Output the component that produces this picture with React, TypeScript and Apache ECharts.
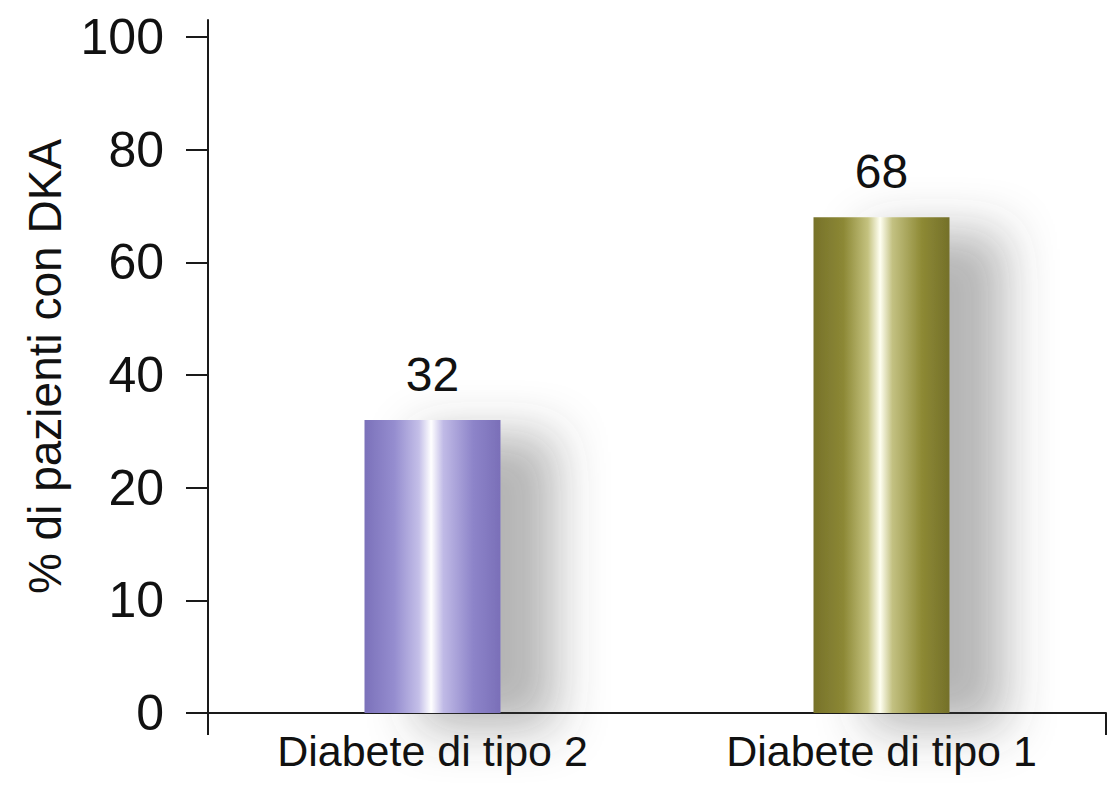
import React, { useEffect, useRef } from "react";
import * as echarts from "echarts";

const categories = ["Diabete di tipo 2", "Diabete di tipo 1"];
const values = [32, 68];
const yTickLabels = [0, 10, 20, 40, 60, 80, 100];
const yAxisName = "% di pazienti con DKA";

// map a value onto the (non-uniform) tick index scale used by the original axis
function toIndex(v: number): number {
  for (let i = 0; i < yTickLabels.length - 1; i++) {
    const a = yTickLabels[i];
    const b = yTickLabels[i + 1];
    if (v >= a && v <= b) return i + (v - a) / (b - a);
  }
  return yTickLabels.length - 1;
}

const FONT = "'Liberation Sans Narrow', 'Liberation Sans', Arial, sans-serif";

const gradients = [
  [
    [0, "#7b71ba"],
    [0.22, "#958dcf"],
    [0.4, "#c4bfe8"],
    [0.49, "#ffffff"],
    [0.58, "#c0bae6"],
    [0.8, "#8d84c9"],
    [1, "#7a6fb8"],
  ],
  [
    [0, "#77722a"],
    [0.22, "#8c8835"],
    [0.4, "#c4c27f"],
    [0.49, "#fffff2"],
    [0.58, "#c3c182"],
    [0.8, "#8d8934"],
    [1, "#74702a"],
  ],
];

export default function App() {
  const ref = useRef<HTMLDivElement>(null);
  useEffect(() => {
    if (!ref.current) return;
    const chart = echarts.init(ref.current, undefined, { renderer: "svg" });
    const tickIdx = yTickLabels.map((_, i) => i);
    chart.setOption({
      animation: false,
      backgroundColor: "#ffffff",
      grid: { left: 208, right: 6, top: 20, bottom: 90, containLabel: false },
      xAxis: {
        type: "category",
        data: categories,
        boundaryGap: true,
        axisLine: { show: true, lineStyle: { color: "#1a1a1a", width: 2 } },
        axisTick: {
          show: true,
          length: 22,
          interval: (i: number) => i > 0,
          lineStyle: { color: "#1a1a1a", width: 2 },
        },
        axisLabel: {
          color: "#111",
          fontFamily: FONT,
          fontSize: 43,
          margin: 16,
        },
      },
      yAxis: {
        type: "value",
        min: 0,
        max: 6.15,
        splitLine: { show: false },
        name: yAxisName,
        nameLocation: "middle",
        nameRotate: 90,
        nameGap: 140,
        nameTextStyle: { color: "#111", fontFamily: FONT, fontSize: 46 },
        axisLine: { show: true, lineStyle: { color: "#1a1a1a", width: 2 } },
        axisTick: {
          show: true,
          length: 22,
          customValues: tickIdx,
          lineStyle: { color: "#1a1a1a", width: 2 },
        },
        axisLabel: {
          customValues: tickIdx,
          color: "#111",
          fontFamily: FONT,
          fontSize: 50,
          margin: 44,
          formatter: (v: number) => {
            const i = Math.round(v);
            return Math.abs(v - i) < 1e-6 && yTickLabels[i] !== undefined ? String(yTickLabels[i]) : "";
          },
        },
      },
      series: [
        {
          type: "bar",
          barWidth: 136,
          data: values.map((v, i) => ({
            value: toIndex(v),
            itemStyle: {
              color: new echarts.graphic.LinearGradient(
                0,
                0,
                1,
                0,
                gradients[i].map(([offset, color]) => ({ offset: offset as number, color: color as string }))
              ),
              shadowColor: "rgba(70,70,70,0.4)",
              shadowBlur: 50,
              shadowOffsetX: 55,
              shadowOffsetY: 15,
            },
          })),
          label: {
            show: true,
            position: "top",
            distance: 22,
            color: "#111",
            fontFamily: FONT,
            fontSize: 48,
            formatter: (p: any) => String(values[p.dataIndex]),
          },
        },
      ],
      graphic: [
        {
          type: "line",
          shape: { x1: 188, y1: 713, x2: 208, y2: 713 },
          style: { stroke: "#1a1a1a", lineWidth: 2 },
        },
      ],
    });
    return () => chart.dispose();
  }, []);
  return (
    <div
      ref={ref}
      style={{ position: "fixed", left: 0, top: 0, width: 1112, height: 803 }}
    />
  );
}
